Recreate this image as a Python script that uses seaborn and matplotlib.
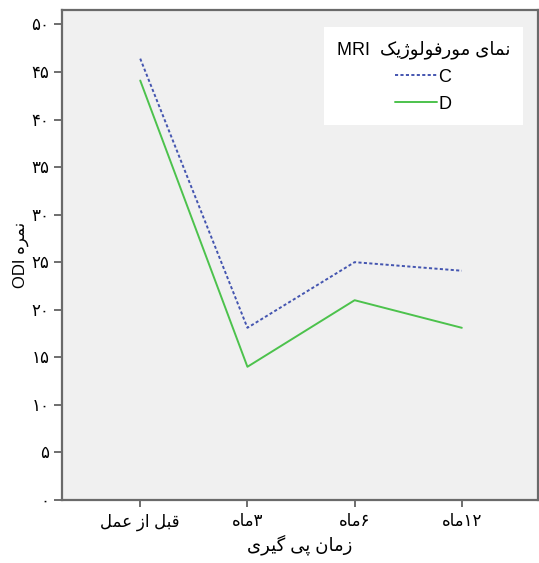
import pandas as pd
import matplotlib
matplotlib.use('Agg')
import matplotlib.pyplot as plt
import seaborn as sns

# Persian letters -> (isolated, final, initial, medial); None means it only joins to the right
FORMS = {
    'ا': (0xFE8D, 0xFE8E, None, None),
    'ب': (0xFE8F, 0xFE90, 0xFE91, 0xFE92),
    'پ': (0xFB56, 0xFB57, 0xFB58, 0xFB59),
    'ر': (0xFEAD, 0xFEAE, None, None),
    'ز': (0xFEAF, 0xFEB0, None, None),
    'ژ': (0xFB8A, 0xFB8B, None, None),
    'ع': (0xFEC9, 0xFECA, 0xFECB, 0xFECC),
    'ف': (0xFED1, 0xFED2, 0xFED3, 0xFED4),
    'ق': (0xFED5, 0xFED6, 0xFED7, 0xFED8),
    'ک': (0xFB8E, 0xFB8F, 0xFB90, 0xFB91),
    'گ': (0xFB92, 0xFB93, 0xFB94, 0xFB95),
    'ل': (0xFEDD, 0xFEDE, 0xFEDF, 0xFEE0),
    'م': (0xFEE1, 0xFEE2, 0xFEE3, 0xFEE4),
    'ن': (0xFEE5, 0xFEE6, 0xFEE7, 0xFEE8),
    'ه': (0xFEE9, 0xFEEA, 0xFEEB, 0xFEEC),
    'و': (0xFEED, 0xFEEE, None, None),
    'ی': (0xFBFC, 0xFBFD, 0xFBFE, 0xFBFF),
}


def fa(text):
    # crude shaping + reversal so matplotlib shows persian right to left
    out = []
    for i, ch in enumerate(text):
        if ch not in FORMS:
            out.append(ch)
            continue
        prev = text[i - 1] if i > 0 else ''
        nxt = text[i + 1] if i + 1 < len(text) else ''
        join_prev = prev in FORMS and FORMS[prev][2] is not None
        join_next = FORMS[ch][2] is not None and nxt in FORMS
        iso, fin, ini, med = FORMS[ch]
        if join_prev and join_next:
            code = med
        elif join_prev:
            code = fin
        elif join_next:
            code = ini
        else:
            code = iso
        out.append(chr(code))
    return ''.join(reversed(out))


def fa_digits(n):
    return ''.join('۰۱۲۳۴۵۶۷۸۹'[int(d)] for d in str(n))


# data
time_points = [fa('قبل از عمل'), fa('ماه') + '۳', fa('ماه') + '۶', fa('ماه') + '۱۲']
odi_c = [46.4, 18.1, 25.0, 24.1]
odi_d = [44.1, 14.0, 21.0, 18.1]
y_ticks = list(range(0, 55, 5))

df = pd.DataFrame({
    'time': time_points * 2,
    'odi': odi_c + odi_d,
    'group': ['C'] * 4 + ['D'] * 4,
})

sns.set_style('white')
plt.rcParams['font.family'] = ['Liberation Sans', 'DejaVu Sans']
plt.rcParams['text.color'] = 'black'
plt.rcParams['axes.labelcolor'] = 'black'
plt.rcParams['xtick.color'] = 'black'
plt.rcParams['ytick.color'] = 'black'

fig = plt.figure(figsize=(5.39, 5.63), dpi=100)
ax = fig.add_axes([0.115, 0.112, 0.883, 0.870])
ax.set_facecolor('#f0f0f0')

sns.lineplot(data=df, x='time', y='odi', hue='group', style='group',
             palette={'C': '#4455b0', 'D': '#4cc24c'},
             dashes={'C': (1.6, 1.2), 'D': ''}, linewidth=1.4, ax=ax)

ax.set_xlim(-0.73, 3.71)
ax.set_ylim(0, 51.5)
ax.set_yticks(y_ticks)
ax.set_yticklabels([fa_digits(v) for v in y_ticks], fontsize=12)
ax.tick_params(axis='x', labelsize=12, length=5, width=1.2, color='#555555',
               labelcolor='black', pad=5, bottom=True)
ax.tick_params(axis='y', length=6, width=1.2, color='#555555',
               labelcolor='black', pad=3, left=True)

for name, spine in ax.spines.items():
    spine.set_color('#6a6a6a')
    spine.set_linewidth(1.6)

ax.set_xlabel(fa('زمان پی گیری'), fontsize=13, labelpad=2)
ax.set_ylabel('ODI ' + fa('نمره'), fontsize=12, labelpad=2)

leg = ax.legend(title='MRI  ' + fa('نمای مورفولوژیک'), loc='upper right',
                bbox_to_anchor=(0.987, 0.983), frameon=True, facecolor='white',
                edgecolor='white', framealpha=1, fancybox=False, fontsize=13,
                title_fontsize=13, handlelength=2.3, handletextpad=0.1,
                borderpad=0.7, labelspacing=0.55, alignment='center')
leg.get_frame().set_linewidth(0)

fig.savefig('out.png', dpi=100, facecolor='white')
